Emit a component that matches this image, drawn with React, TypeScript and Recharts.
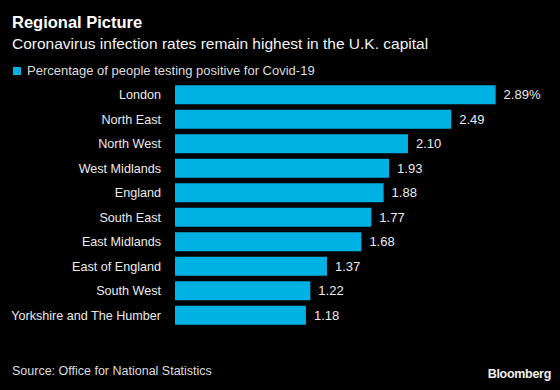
import { BarChart, Bar, XAxis, YAxis, LabelList } from 'recharts'

const regions = [
  'London', 'North East', 'North West', 'West Midlands', 'England',
  'South East', 'East Midlands', 'East of England', 'South West', 'Yorkshire and The Humber',
]
const positivity = [2.89, 2.49, 2.1, 1.93, 1.88, 1.77, 1.68, 1.37, 1.22, 1.18]

const CYAN = '#00b2e3'
const FONT = '"Liberation Sans", Arial, sans-serif'

const data = regions.map((region, i) => ({ region, value: positivity[i] }))

export default function App() {
  return (
    <div style={{ position: 'absolute', left: 0, top: 0, width: 560, height: 390, background: '#000', fontFamily: FONT, overflow: 'hidden' }}>
      <div style={{ position: 'absolute', left: 12, top: 13, color: '#fff', fontSize: 16.5, fontWeight: 700 }}>Regional Picture</div>
      <div style={{ position: 'absolute', left: 12, top: 35, color: '#f2f2f2', fontSize: 15.5 }}>
        Coronavirus infection rates remain highest in the U.K. capital
      </div>
      <div style={{ position: 'absolute', left: 13, top: 63, color: '#dcdcdc', fontSize: 13, display: 'flex', alignItems: 'center' }}>
        <span style={{ display: 'inline-block', width: 8, height: 8, background: CYAN, marginRight: 6 }} />
        Percentage of people testing positive for Covid-19
      </div>

      <div style={{ position: 'absolute', left: 0, top: 78 }}>
        <BarChart
          width={560}
          height={255}
          data={data}
          layout="vertical"
          margin={{ top: 4.5, right: 30, bottom: 5.5, left: 0 }}
          barCategoryGap="11%"
        >
          <XAxis type="number" domain={[0, 3.2]} hide />
          <YAxis
            type="category"
            dataKey="region"
            width={175}
            axisLine={false}
            tickLine={false}
            interval={0}
            tick={{ fill: '#ebebeb', fontSize: 12.6, fontFamily: FONT }}
            tickMargin={8}
          />
          <Bar dataKey="value" fill={CYAN} isAnimationActive={false}>
            <LabelList
              dataKey="value"
              position="right"
              offset={8}
              fill="#ebebeb"
              fontSize={13}
              fontFamily={FONT}
              formatter={(v: any) => {
                const s = Number(v).toFixed(2)
                return Number(v) === positivity[0] ? `${s}%` : s
              }}
            />
          </Bar>
        </BarChart>
      </div>

      <div style={{ position: 'absolute', left: 12, top: 364, color: '#dcdcdc', fontSize: 12.5 }}>
        Source: Office for National Statistics
      </div>
      <div style={{ position: 'absolute', right: 9, top: 367, color: '#f0f0f0', fontSize: 12.5, fontWeight: 700, letterSpacing: -0.3 }}>
        Bloomberg
      </div>
    </div>
  )
}
